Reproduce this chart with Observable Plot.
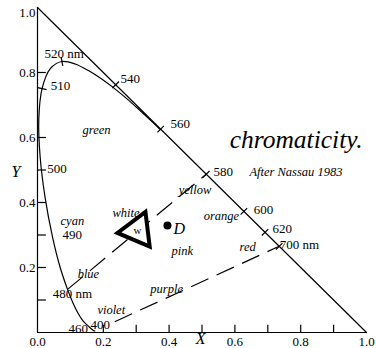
<!DOCTYPE html>
<html><head><meta charset="utf-8">
<script src="https://cdn.jsdelivr.net/npm/d3@7"></script>
<script src="https://cdn.jsdelivr.net/npm/@observablehq/plot@0.6"></script>
<style>body{margin:0;background:#fff}</style>
</head><body><div id="chart"></div>
<script>
// Spectral locus (wavelength nm, chromaticity x, y)
const wavelengths = [380,390,400,410,420,430,440,450,460,465,470,475,480,485,490,495,500,505,510,515,520,525,530,535,540,545,550,555,560,570,580,590,600,610,620,630,640,650,660,680,700];
const locusX = [0.1741,0.1738,0.1733,0.1726,0.1714,0.1689,0.1644,0.1566,0.1440,0.1355,0.1241,0.1096,0.0913,0.0687,0.0454,0.0235,0.0082,0.0039,0.0139,0.0389,0.0743,0.1142,0.1547,0.1929,0.2296,0.2658,0.3016,0.3373,0.3731,0.4441,0.5125,0.5752,0.6270,0.6658,0.6915,0.7079,0.7190,0.7260,0.7300,0.7334,0.7347];
const locusY = [0.0050,0.0049,0.0048,0.0048,0.0051,0.0069,0.0109,0.0177,0.0297,0.0399,0.0578,0.0868,0.1327,0.2007,0.2950,0.4127,0.5384,0.6548,0.7502,0.8120,0.8338,0.8262,0.8059,0.7816,0.7543,0.7243,0.6923,0.6589,0.6245,0.5547,0.4866,0.4242,0.3725,0.3340,0.3083,0.2920,0.2809,0.2740,0.2700,0.2666,0.2653];
const locusDrawnTo = 560; // beyond this the locus runs along the x + y = 1 edge

// x + y = 1 edge
const edgeX = [0, 1];
const edgeY = [1, 0];

// axes
const xTickValues = [0.2,0.3,0.4,0.5,0.6,0.7,0.8,0.9];
const yTickValues = [0.1,0.2,0.3,0.4,0.5,0.6,0.8];
const xLabelValues = [0,0.2,0.4,0.6,0.8,1.0];
const yLabelValues = [0.2,0.4,0.6,0.8];
const yTopLabel = [1.0];

// wavelength marks
const curveTickNm = [510, 520];
const edgeTickNm = [540, 560, 580, 600, 620, 700];

// dashed lines: [from nm on locus, to nm]
const complementaryLine = [480, 580];
const purpleLine = [380, 700];

// points
const whitePointX = [0.304], whitePointY = [0.314];
const pointDX = [0.395], pointDY = [0.329];

// labels
const nmText = ["520 nm","510","500","540","560","580","600","620","700 nm","490","480 nm","460","400"];
const nmX =    [0.021,0.040,0.030,0.252,0.404,0.535,0.657,0.714,0.736,0.076,0.046,0.094,0.161];
const nmY =    [0.846,0.745,0.492,0.769,0.628,0.483,0.366,0.305,0.258,0.289,0.105,0.000,0.012];

const colorText = ["green","cyan","white","pink","yellow","orange","red","purple","violet","blue","After Nassau 1983"];
const colorX =    [0.137,0.070,0.228,0.407,0.429,0.505,0.614,0.343,0.182,0.122,0.644];
const colorY =    [0.612,0.332,0.354,0.240,0.425,0.345,0.252,0.123,0.058,0.169,0.483];

const titleText = ["chromaticity."], titleX = [0.584], titleY = [0.569];
const bigText = ["Y","X","D"];
const bigX = [-0.079,0.481,0.413];
const bigY = [0.477,-0.036,0.302];
const wText = ["w"];

// ---- build tables
const locus = wavelengths.map((nm,i)=>({nm, x: locusX[i], y: locusY[i]}));
const locusDrawn = locus.filter(d => d.nm <= locusDrawnTo);
const byNm = nm => locus.find(d => d.nm === nm);
const onEdge = p => { const x = (p.x - p.y + 1) / 2; return {x, y: 1 - x}; };
const h = 0.014;
const curveTicks = curveTickNm.map(nm => {
  const i = wavelengths.indexOf(nm);
  const a = locus[i-1], b = locus[i+1], p = locus[i];
  const dx = b.x - a.x, dy = b.y - a.y, L = Math.hypot(dx, dy);
  const nx = -dy / L, ny = dx / L;
  return {x1: p.x - h*nx, y1: p.y - h*ny, x2: p.x + h*nx, y2: p.y + h*ny};
});
const edgeTicks = edgeTickNm.map(nm => {
  const p = onEdge(byNm(nm)); const k = h / Math.SQRT2;
  return {x1: p.x - k, y1: p.y - k, x2: p.x + k, y2: p.y + k};
});
const lineA = (() => { const a = byNm(complementaryLine[0]), b = onEdge(byNm(complementaryLine[1])); return [{x1:a.x,y1:a.y,x2:b.x,y2:b.y}]; })();
const lineB = (() => { const a = byNm(purpleLine[0]), b = onEdge(byNm(purpleLine[1])); return [{x1:a.x,y1:a.y,x2:b.x,y2:b.y}]; })();
const edge = edgeX.map((x,i)=>({x, y: edgeY[i]}));
const mk = (t, xs, ys) => t.map((s,i)=>({text:s, x: xs[i], y: ys[i]}));
const nmLabels = mk(nmText, nmX, nmY);
const colorLabels = mk(colorText, colorX, colorY);
const titleLabels = mk(titleText, titleX, titleY);
const bigLabels = mk(bigText, bigX, bigY);
const wp = [{x: whitePointX[0], y: whitePointY[0]}];
const dpt = [{x: pointDX[0], y: pointDY[0]}];
const purpleDash = [0,22].concat(...Array(8).fill([19,9])).join(",");

const serif = "'Liberation Serif', 'Times New Roman', serif";
const plot = Plot.plot({
  width: 376, height: 348,
  marginLeft: 37, marginRight: 10, marginTop: 7, marginBottom: 16,
  x: {domain: [0, 1]},
  y: {domain: [0, 1]},
  style: {fontFamily: serif, fontSize: "13px", background: "white", color: "black", overflow: "visible"},
  marks: [
    Plot.axisX(xLabelValues, {tickSize: 0, tickPadding: 4, tickFormat: d3.format(".1f"), label: null, fontSize: 13, fontFamily: serif}),
    Plot.axisY(yLabelValues, {tickSize: 0, tickPadding: 2, tickFormat: d3.format(".1f"), label: null, fontSize: 13, fontFamily: serif}),
    Plot.axisY(yTopLabel, {tickSize: 0, tickPadding: 2, tickFormat: d3.format(".1f"), label: null, fontSize: 13, fontFamily: serif, dy: 5}),
    Plot.ruleX([0], {y1: 0, y2: 1, strokeWidth: 1.2}),
    Plot.ruleY([0], {x1: 0, x2: 1, strokeWidth: 1.2}),
    Plot.ruleX(xTickValues, {y1: 0, y2: 0.022, strokeWidth: 1.2}),
    Plot.ruleY(yTickValues, {x1: 0, x2: 0.027, strokeWidth: 1.2}),
    Plot.line(edge, {x: "x", y: "y", strokeWidth: 1.2}),
    Plot.line(locusDrawn, {x: "x", y: "y", strokeWidth: 1.2, curve: "catmull-rom"}),
    Plot.link(curveTicks, {x1: "x1", y1: "y1", x2: "x2", y2: "y2", strokeWidth: 1.2}),
    Plot.link(edgeTicks, {x1: "x1", y1: "y1", x2: "x2", y2: "y2", strokeWidth: 1.2}),
    Plot.link(lineA, {x1: "x1", y1: "y1", x2: "x2", y2: "y2", strokeWidth: 1.2, strokeDasharray: "20,9"}),
    Plot.link(lineB, {x1: "x1", y1: "y1", x2: "x2", y2: "y2", strokeWidth: 1.2, strokeDasharray: purpleDash}),
    Plot.dot(wp, {x: "x", y: "y", symbol: "triangle", r: 13, rotate: 23, stroke: "black", strokeWidth: 4, fill: "white"}),
    Plot.dot(dpt, {x: "x", y: "y", r: 4, fill: "black"}),
    Plot.text(nmLabels, {x: "x", y: "y", text: "text", textAnchor: "start", lineAnchor: "bottom", fontSize: 13, fontFamily: serif}),
    Plot.text(colorLabels, {x: "x", y: "y", text: "text", textAnchor: "start", lineAnchor: "bottom", fontSize: 12.5, fontStyle: "italic", fontFamily: serif}),
    Plot.text(titleLabels, {x: "x", y: "y", text: "text", textAnchor: "start", lineAnchor: "bottom", fontSize: 25.5, fontStyle: "italic", fontFamily: serif}),
    Plot.text(bigLabels, {x: "x", y: "y", text: "text", textAnchor: "start", lineAnchor: "bottom", fontSize: 16, fontStyle: "italic", fontFamily: serif}),
    Plot.text(wp, {x: "x", y: "y", text: () => wText[0], fontSize: 11, fontFamily: serif})
  ]
});
document.getElementById("chart").appendChild(plot);
</script>
</body></html>
